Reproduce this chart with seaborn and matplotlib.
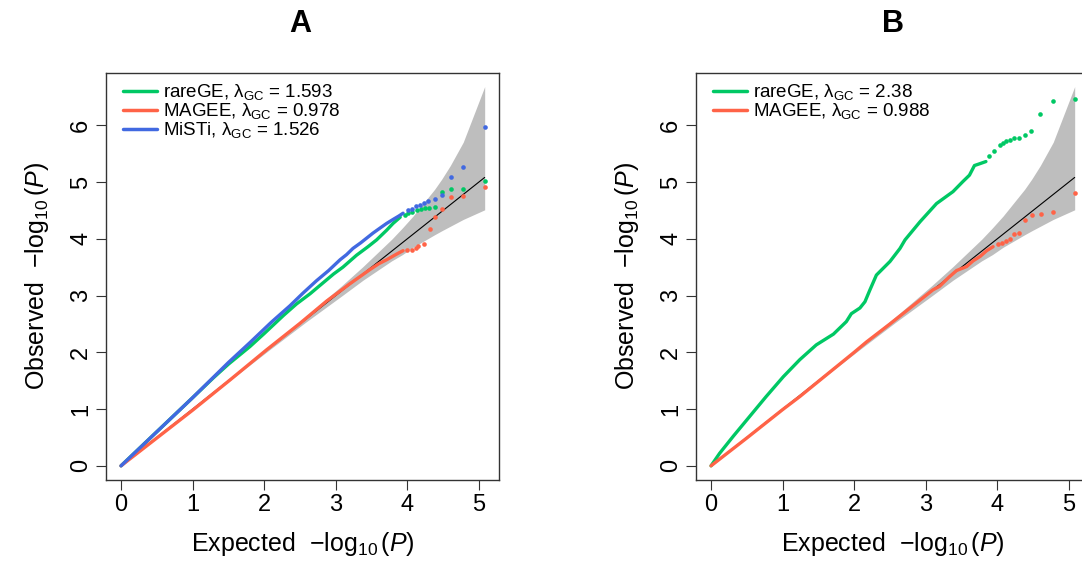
import numpy as np
import pandas as pd
import matplotlib
matplotlib.use("Agg")
import matplotlib.pyplot as plt
import seaborn as sns

# ---- data ----
# null line / 95% band (shared by both panels)
band_x = [0, 1.08, 2.08, 2.58, 3.08, 3.38, 3.58, 3.78, 3.93, 4.08, 4.38, 4.48, 4.60, 4.78, 5.08]
band_lo = [0, 1.07, 2.05, 2.53, 2.99, 3.27, 3.44, 3.61, 3.72, 3.85, 4.07, 4.14, 4.22, 4.34, 4.51]
band_hi = [0, 1.09, 2.11, 2.63, 3.17, 3.51, 3.75, 3.99, 4.19, 4.40, 4.87, 5.05, 5.29, 5.70, 6.68]
null_x = [0, 5.08]

# panel A
a_rare_x = [0, 0.5, 1.0, 1.29, 1.5, 1.8, 2.0, 2.27, 2.45, 2.64, 2.8, 2.97, 3.1, 3.29, 3.45, 3.57, 3.71, 3.8, 3.9]
a_rare_y = [0, 0.60, 1.20, 1.55, 1.79, 2.10, 2.33, 2.65, 2.85, 3.03, 3.20, 3.38, 3.50, 3.71, 3.86, 3.98, 4.15, 4.27, 4.38]
a_rare_tx = [3.96, 4.01, 4.06, 4.13, 4.19, 4.25, 4.30, 4.38, 4.48, 4.61, 4.78, 5.08]
a_rare_ty = [4.42, 4.46, 4.48, 4.51, 4.53, 4.55, 4.55, 4.56, 4.83, 4.87, 4.88, 5.02]

a_magee_x = [0, 0.5, 1.0, 1.52, 2.03, 2.5, 2.87, 3.2, 3.48, 3.6, 3.71, 3.85, 3.94]
a_magee_y = [0, 0.49, 0.98, 1.51, 2.04, 2.51, 2.90, 3.21, 3.46, 3.56, 3.63, 3.73, 3.79]
a_magee_tx = [4.00, 4.06, 4.12, 4.15, 4.23, 4.31, 4.39, 4.48, 4.61, 4.78, 5.08]
a_magee_ty = [3.80, 3.81, 3.83, 3.87, 3.90, 4.17, 4.39, 4.52, 4.74, 4.75, 4.92]

a_misti_x = [0, 0.5, 1.0, 1.5, 1.8, 2.1, 2.36, 2.54, 2.73, 2.9, 3.06, 3.15, 3.24, 3.35, 3.45, 3.52, 3.62, 3.71, 3.8, 3.88, 3.94]
a_misti_y = [0, 0.60, 1.20, 1.82, 2.17, 2.53, 2.82, 3.04, 3.26, 3.44, 3.63, 3.72, 3.83, 3.93, 4.03, 4.10, 4.19, 4.27, 4.34, 4.40, 4.45]
a_misti_tx = [4.01, 4.06, 4.12, 4.18, 4.23, 4.29, 4.39, 4.48, 4.61, 4.78, 5.08]
a_misti_ty = [4.50, 4.53, 4.57, 4.60, 4.63, 4.66, 4.70, 4.77, 5.09, 5.27, 5.96]

# panel B
b_rare_x = [0, 0.12, 0.31, 0.54, 0.77, 1.01, 1.24, 1.47, 1.71, 1.89, 1.96, 2.08, 2.15, 2.22, 2.31, 2.50, 2.64, 2.71, 2.92, 3.15, 3.38, 3.52, 3.61, 3.68, 3.75, 3.84]
b_rare_y = [0, 0.22, 0.52, 0.87, 1.22, 1.57, 1.87, 2.13, 2.32, 2.54, 2.68, 2.78, 2.89, 3.10, 3.36, 3.60, 3.83, 3.98, 4.30, 4.62, 4.83, 5.01, 5.12, 5.29, 5.32, 5.36]
b_rare_tx = [3.89, 3.95, 4.03, 4.08, 4.12, 4.17, 4.23, 4.30, 4.38, 4.47, 4.60, 4.78, 5.08]
b_rare_ty = [5.45, 5.55, 5.65, 5.69, 5.72, 5.74, 5.78, 5.78, 5.83, 5.89, 6.19, 6.43, 6.46]

b_magee_x = [0, 0.5, 1.0, 1.24, 1.6, 2.0, 2.17, 2.5, 2.8, 3.10, 3.19, 3.33, 3.43, 3.57, 3.66, 3.76, 3.85, 3.94]
b_magee_y = [0, 0.49, 0.99, 1.22, 1.59, 2.0, 2.18, 2.50, 2.80, 3.10, 3.16, 3.33, 3.44, 3.51, 3.61, 3.69, 3.79, 3.86]
b_magee_tx = [4.01, 4.06, 4.12, 4.17, 4.23, 4.30, 4.38, 4.48, 4.61, 4.78, 5.08]
b_magee_ty = [3.90, 3.93, 3.96, 4.00, 4.08, 4.10, 4.33, 4.41, 4.44, 4.47, 4.80]

GREEN = "#00C864"
RED = "#FF6347"
BLUE = "#4169E1"

sns.set_style("white")
plt.rcParams["font.family"] = ["Liberation Sans", "DejaVu Sans"]
plt.rcParams["mathtext.fontset"] = "custom"
plt.rcParams["mathtext.rm"] = "Liberation Sans"
plt.rcParams["mathtext.it"] = "Liberation Sans:italic"
plt.rcParams["text.color"] = "black"
plt.rcParams["axes.labelcolor"] = "black"
plt.rcParams["xtick.color"] = "black"
plt.rcParams["ytick.color"] = "black"

fig = plt.figure(figsize=(10.82, 5.64), dpi=100)
W, H = 1082, 564


def qq_panel(left_px, series, legend_labels, title, title_x):
    ax = fig.add_axes([left_px / W, 1 - 480 / H, 393 / W, 407 / H])
    ax.fill_between(band_x, band_lo, band_hi, color="#BEBEBE", lw=0, zorder=1)
    sns.lineplot(x=null_x, y=null_x, ax=ax, color="black", lw=0.8, zorder=2)
    handles = []
    for (dx, dy, tx, ty, col) in series:
        sns.lineplot(x=dx, y=dy, ax=ax, color=col, lw=2.4, sort=False, zorder=3)
        sns.scatterplot(x=tx, y=ty, ax=ax, color=col, s=11, linewidth=0, zorder=3)
        handles.append(plt.Line2D([], [], color=col, lw=2.5))
    ax.set_xlim(-0.21, 5.28)
    ax.set_ylim(-0.25, 6.92)
    ax.set_xticks(range(6))
    ax.set_yticks(range(7))
    ax.tick_params(direction="out", length=7, width=0.8, color="#333333",
                   labelsize=17, pad=3, left=True, bottom=True)
    for lab in ax.get_yticklabels():
        lab.set_rotation(90)
        lab.set_va("center")
    for s in ax.spines.values():
        s.set_color("#333333")
        s.set_linewidth(1)
    ax.set_xlabel(r"Expected  $-\log_{10}(\mathit{P})$", fontsize=18, labelpad=10)
    ax.set_ylabel(r"Observed  $-\log_{10}(\mathit{P})$", fontsize=18, labelpad=14)
    ax.legend(handles, legend_labels, loc="upper left", frameon=False, fontsize=13.5,
              handlelength=1.8, handletextpad=0.35, labelspacing=-0.05,
              borderaxespad=0.2, bbox_to_anchor=(0.015, 1.005))
    fig.text(title_x / W, 1 - 24 / H, title, fontsize=22, fontweight="bold",
             ha="center", va="center")
    return ax


qq_panel(106,
         [(a_rare_x, a_rare_y, a_rare_tx, a_rare_ty, GREEN),
          (a_magee_x, a_magee_y, a_magee_tx, a_magee_ty, RED),
          (a_misti_x, a_misti_y, a_misti_tx, a_misti_ty, BLUE)],
         ["rareGE, λ$_{\\rm GC}$ = 1.593", "MAGEE, λ$_{\\rm GC}$ = 0.978",
          "MiSTi, λ$_{\\rm GC}$ = 1.526"],
         "A", 300)

qq_panel(696,
         [(b_rare_x, b_rare_y, b_rare_tx, b_rare_ty, GREEN),
          (b_magee_x, b_magee_y, b_magee_tx, b_magee_ty, RED)],
         ["rareGE, λ$_{\\rm GC}$ = 2.38", "MAGEE, λ$_{\\rm GC}$ = 0.988"],
         "B", 893)

fig.savefig("out.png", dpi=100)
